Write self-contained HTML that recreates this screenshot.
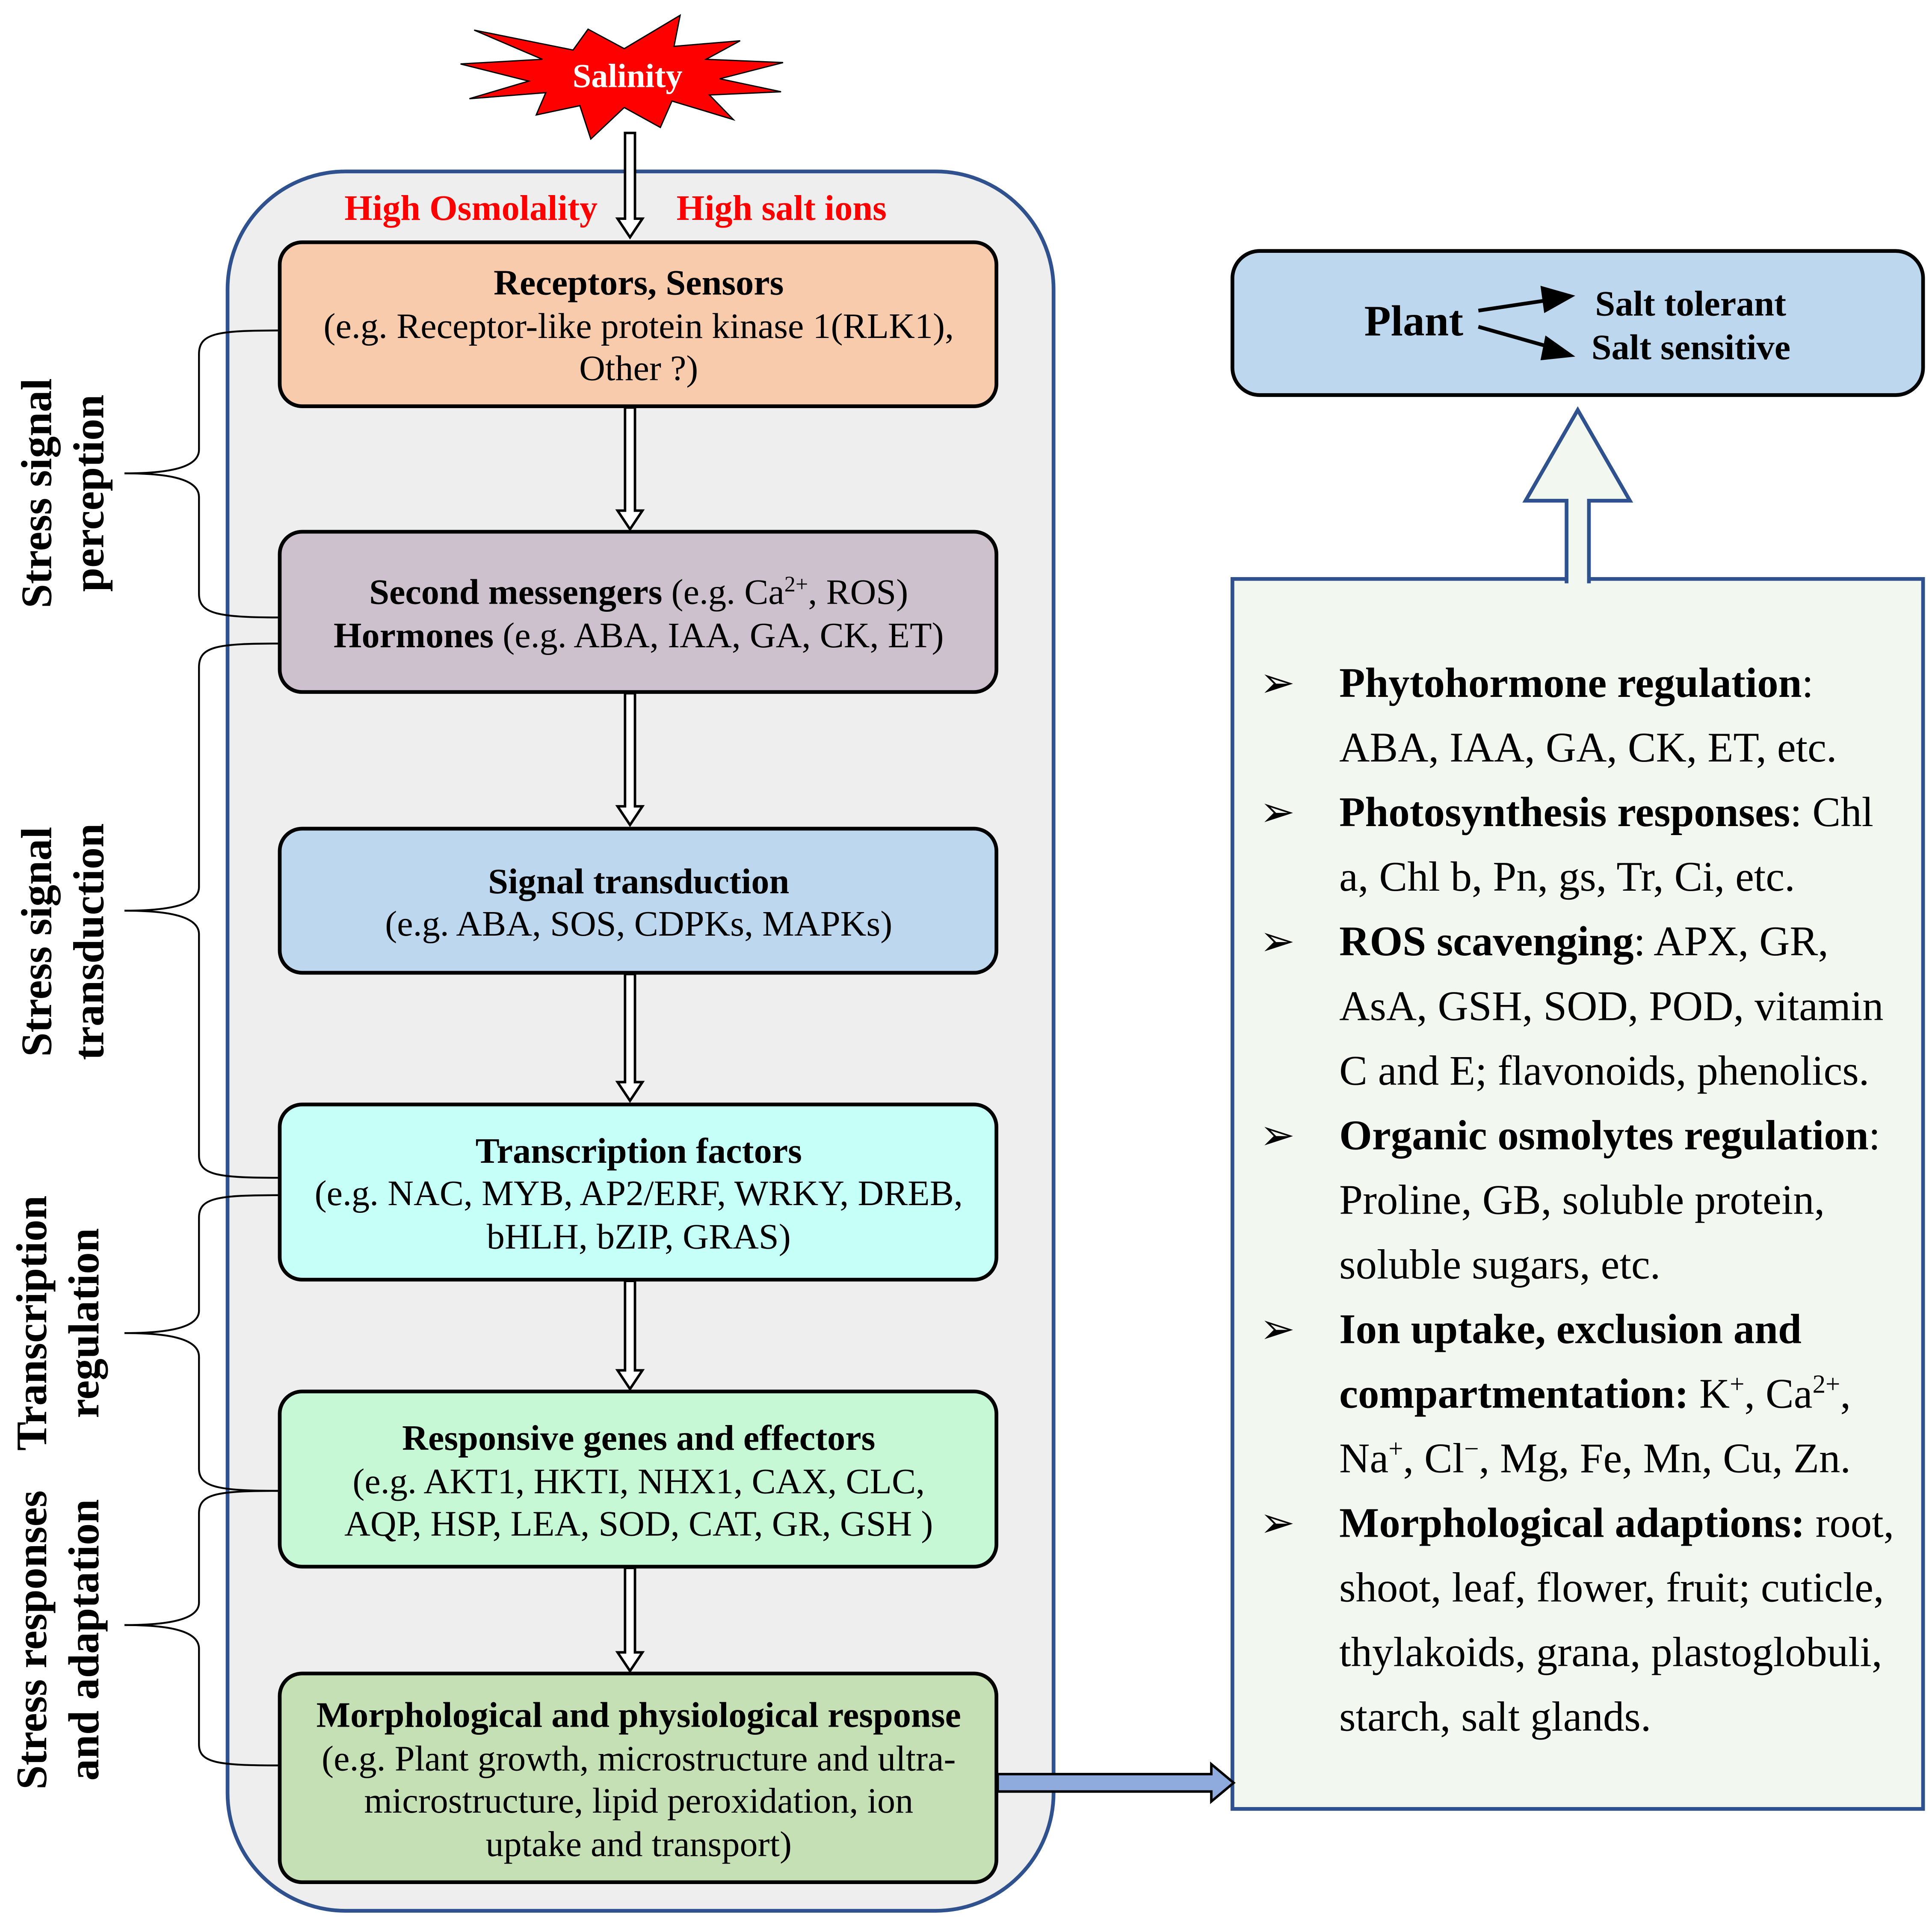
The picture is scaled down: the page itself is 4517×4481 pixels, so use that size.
<!DOCTYPE html>
<html><head><meta charset="utf-8"><style>
html,body{margin:0;padding:0;background:#fff;}
svg{display:block;}
text{font-family:"Liberation Serif",serif;fill:#000;}
.b{font-weight:bold;}
</style></head><body>
<svg width="4517" height="4481" viewBox="0 0 1555 1543" xmlns="http://www.w3.org/2000/svg">
<rect x="0" y="0" width="1555" height="1543" fill="#fff"/>
<rect x="183" y="138" width="665" height="1400" rx="95" fill="#eeeeee" stroke="#2f528f" stroke-width="3"/>
<g transform="matrix(0.549 0 0 0.373 0 0)">
<polygon points="695,65 840,108 862,63 915,105 997,33 988,100 1085,88 1035,128 1148,135 1055,170 1145,198 1040,205 1075,258 985,218 968,275 915,232 866,300 850,228 786,248 800,200 688,213 775,175 675,138 795,128" fill="#ff0000" stroke="#000" stroke-width="3" vector-effect="non-scaling-stroke"/>
</g>
<text x="505" y="70" class="b" font-size="27" text-anchor="middle" style="fill:#fff">Salinity</text>
<g fill="#fff" stroke="#000" stroke-width="2">
<polygon points="503,107 511,107 511,176 517,176 507,191 497,176 503,176"/>
<polygon points="503,328 511,328 511,411 517,411 507,426 497,411 503,411"/>
<polygon points="503,558 511,558 511,649 517,649 507,664 497,649 503,649"/>
<polygon points="503,784 511,784 511,871 517,871 507,886 497,871 503,871"/>
<polygon points="503,1031 511,1031 511,1103 517,1103 507,1118 497,1103 503,1103"/>
<polygon points="503,1262 511,1262 511,1330 517,1330 507,1345 497,1330 503,1330"/>
</g>
<text x="379" y="177" class="b" font-size="29" text-anchor="middle" style="fill:#ff0000">High Osmolality</text>
<text x="629" y="177" class="b" font-size="29" text-anchor="middle" style="fill:#ff0000">High salt ions</text>
<g stroke="#000" stroke-width="3">
<rect x="225" y="195" width="577" height="132" rx="18" fill="#f8cbad"/>
<rect x="225" y="428" width="577" height="129" rx="18" fill="#cdc1cd"/>
<rect x="225" y="667" width="577" height="116" rx="18" fill="#bdd7ee"/>
<rect x="225" y="889" width="577" height="141" rx="18" fill="#c6fff8"/>
<rect x="225" y="1120" width="577" height="141" rx="18" fill="#c6f8d6"/>
<rect x="225" y="1347" width="577" height="168" rx="18" fill="#c5e0b4"/>
</g>
<g font-size="29" text-anchor="middle">
<text x="514" y="237" class="b">Receptors, Sensors</text>
<text x="514" y="272">(e.g. Receptor-like protein kinase 1(RLK1),</text>
<text x="514" y="306">Other ?)</text>
<text x="514" y="486"><tspan class="b">Second messengers</tspan> (e.g. Ca<tspan font-size="18" dy="-10">2+</tspan><tspan dy="10">, ROS)</tspan></text>
<text x="514" y="521"><tspan class="b">Hormones</tspan> (e.g. ABA, IAA, GA, CK, ET)</text>
<text x="514" y="719" class="b">Signal transduction</text>
<text x="514" y="753">(e.g. ABA, SOS, CDPKs, MAPKs)</text>
<text x="514" y="936" class="b">Transcription factors</text>
<text x="514" y="970">(e.g. NAC, MYB, AP2/ERF, WRKY, DREB,</text>
<text x="514" y="1005">bHLH, bZIP, GRAS)</text>
<text x="514" y="1167" class="b">Responsive genes and effectors</text>
<text x="514" y="1202">(e.g. AKT1, HKTI, NHX1, CAX, CLC,</text>
<text x="514" y="1236">AQP, HSP, LEA, SOD, CAT, GR, GSH )</text>
<text x="514" y="1390" class="b">Morphological and physiological response</text>
<text x="514" y="1425">(e.g. Plant growth, microstructure and ultra-</text>
<text x="514" y="1459">microstructure, lipid peroxidation, ion</text>
<text x="514" y="1494">uptake and transport)</text>
</g>
<g fill="none" stroke="#000" stroke-width="1.5">
<path d="M225,266 C175,266 160,268 160,285 L160,362 C160,378 130,381 100,381 C130,381 160,384 160,400 L160,478 C160,494 175,497 225,497"/>
<path d="M225,518 C175,518 160,520 160,537 L160,714 C160,730 130,733 100,733 C130,733 160,736 160,752 L160,930 C160,946 175,948 225,948"/>
<path d="M225,962 C175,962 160,964 160,980 L160,1055 C160,1070 130,1073 100,1073 C130,1073 160,1076 160,1092 L160,1182 C160,1197 175,1200 225,1200"/>
<path d="M225,1200 C175,1200 160,1202 160,1218 L160,1290 C160,1305 130,1308 100,1308 C130,1308 160,1311 160,1327 L160,1404 C160,1419 175,1421 225,1421"/>
</g>
<g font-size="35" class="b" text-anchor="middle">
<text transform="translate(41,397) rotate(-90)" class="b">Stress signal</text>
<text transform="translate(83,397) rotate(-90)" class="b">perception</text>
<text transform="translate(41,758) rotate(-90)" class="b">Stress signal</text>
<text transform="translate(83,758) rotate(-90)" class="b">transduction</text>
<text transform="translate(37,1065) rotate(-90)" class="b">Transcription</text>
<text transform="translate(79,1065) rotate(-90)" class="b">regulation</text>
<text transform="translate(37,1320) rotate(-90)" class="b">Stress responses</text>
<text transform="translate(79,1320) rotate(-90)" class="b">and adaptation</text>
</g>
<rect x="992" y="202" width="556" height="116" rx="22" fill="#bdd7ee" stroke="#000" stroke-width="3"/>
<text x="1138" y="270" class="b" font-size="35" text-anchor="middle">Plant</text>
<g stroke="#000" stroke-width="3"><line x1="1190" y1="250" x2="1250" y2="241"/><line x1="1190" y1="263" x2="1250" y2="280"/></g>
<polygon points="1240,230 1268,238 1243,252" fill="#000"/>
<polygon points="1244,270 1268,287 1240,290" fill="#000"/>
<text x="1284" y="254" class="b" font-size="29">Salt tolerant</text>
<text x="1281" y="289" class="b" font-size="29">Salt sensitive</text>
<rect x="992" y="466" width="556" height="990" fill="#f2f7f0" stroke="#2f528f" stroke-width="3"/>
<polygon points="1261,468 1261,403 1228,403 1270,330 1312,403 1279,403 1279,468" fill="#f2f7f0" stroke="#2f528f" stroke-width="3"/>
<rect x="1262.5" y="462" width="15" height="8" fill="#f2f7f0"/>
<polygon points="803,1428 975,1428 975,1420 993,1435 975,1450 975,1442 803,1442" fill="#8faadc" stroke="#000" stroke-width="2"/>
<g font-size="34">
<text x="1014" y="561">➢</text><text x="1078" y="561"><tspan class="b">Phytohormone regulation</tspan>:</text>
<text x="1078" y="613">ABA, IAA, GA, CK, ET, etc.</text>
<text x="1014" y="665">➢</text><text x="1078" y="665"><tspan class="b">Photosynthesis responses</tspan>: Chl</text>
<text x="1078" y="717">a, Chl b, Pn, gs, Tr, Ci, etc.</text>
<text x="1014" y="769">➢</text><text x="1078" y="769"><tspan class="b">ROS scavenging</tspan>: APX, GR,</text>
<text x="1078" y="821">AsA, GSH, SOD, POD, vitamin</text>
<text x="1078" y="873">C and E; flavonoids, phenolics.</text>
<text x="1014" y="925">➢</text><text x="1078" y="925"><tspan class="b">Organic osmolytes regulation</tspan>:</text>
<text x="1078" y="977">Proline, GB, soluble protein,</text>
<text x="1078" y="1029">soluble sugars, etc.</text>
<text x="1014" y="1081">➢</text><text x="1078" y="1081" class="b">Ion uptake, exclusion and</text>
<text x="1078" y="1133"><tspan class="b">compartmentation:</tspan> K<tspan font-size="21" dy="-12">+</tspan><tspan dy="12">, Ca</tspan><tspan font-size="21" dy="-12">2+</tspan><tspan dy="12">,</tspan></text>
<text x="1078" y="1185">Na<tspan font-size="21" dy="-12">+</tspan><tspan dy="12">, Cl</tspan><tspan font-size="21" dy="-12">−</tspan><tspan dy="12">, Mg, Fe, Mn, Cu, Zn.</tspan></text>
<text x="1014" y="1237">➢</text><text x="1078" y="1237"><tspan class="b">Morphological adaptions:</tspan> root,</text>
<text x="1078" y="1289">shoot, leaf, flower, fruit; cuticle,</text>
<text x="1078" y="1341">thylakoids, grana, plastoglobuli,</text>
<text x="1078" y="1393">starch, salt glands.</text>
</g>
</svg>
</body></html>
